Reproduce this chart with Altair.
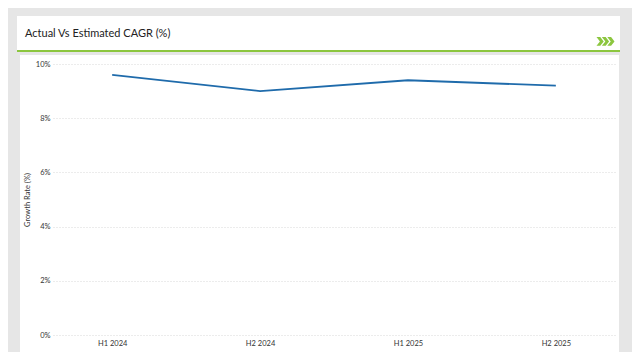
import altair as alt
import pandas as pd

periods = ["H1 2024", "H2 2024", "H1 2025", "H2 2025"]
growth = [9.6, 9.0, 9.4, 9.2]
y_ticks = [0, 2, 4, 6, 8, 10]
title_text = "Actual Vs Estimated CAGR (%)"
y_title = "Growth Rate (%)"

df = pd.DataFrame({"period": periods, "growth": growth})
one = alt.Data(values=[{}])
FONT = "Lato"
GREEN = "#8cc63f"

header = alt.Chart(one).mark_rect(color="white").encode(
    x=alt.value(-36), x2=alt.value(567), y=alt.value(-48), y2=alt.value(-12))
green_line = alt.Chart(one).mark_rect(color=GREEN).encode(
    x=alt.value(-36), x2=alt.value(567), y=alt.value(-14), y2=alt.value(-12))
panel = alt.Chart(one).mark_rect(color="white").encode(
    x=alt.value(-33), x2=alt.value(566), y=alt.value(-9), y2=alt.value(288))
title = alt.Chart(one).mark_text(
    text=title_text, font=FONT, fontSize=11, color="#222", align="left", baseline="alphabetic"
).encode(x=alt.value(-28), y=alt.value(-27))


def chevron(o):
    return (f"M{o},-0.48 L{o + 0.42:.2f},-0.48 L{o + 0.8:.2f},0 L{o + 0.42:.2f},0.48 "
            f"L{o},0.48 L{o + 0.38:.2f},0 Z")


chev_path = " ".join(chevron(o) for o in (-1, -0.4, 0.2))
chevrons = alt.Chart(one).mark_point(
    shape=chev_path, filled=True, color=GREEN, opacity=1, size=324, strokeWidth=0
).encode(x=alt.value(552.5), y=alt.value(-22.6))

line = alt.Chart(df).mark_line(color="#1f6bab", strokeWidth=1.8).encode(
    x=alt.X("period:N", sort=periods, title=None,
            scale=alt.Scale(type="point", padding=0.4),
            axis=alt.Axis(labelAngle=0, ticks=False, domain=False, grid=False, zindex=1,
                          labelFontSize=7.5, labelColor="#333", labelFont=FONT, labelPadding=4)),
    y=alt.Y("growth:Q", title=y_title,
            scale=alt.Scale(domain=[0, 10], nice=False),
            axis=alt.Axis(values=y_ticks, labelExpr="datum.value + '%'", ticks=False, domain=False,
                          grid=True, gridColor="#d9d9d9", gridDash=[1, 2], gridWidth=1, zindex=1,
                          labelFontSize=7.5, labelColor="#333", labelFont=FONT, labelPadding=3,
                          titleFontSize=7.5, titleFont=FONT, titleColor="#333",
                          titleFontWeight="normal", titlePadding=4)),
)

chart = alt.layer(header, green_line, panel, title, chevrons, line).properties(
    width=562, height=271,
    padding={"left": 45, "top": 56, "right": 17, "bottom": 17},
    autosize=alt.AutoSizeParams(type="none"),
    background="#e6e6e6",
).configure_view(stroke=None)

chart.save("out.html", embed_options={"renderer": "svg", "actions": False})
